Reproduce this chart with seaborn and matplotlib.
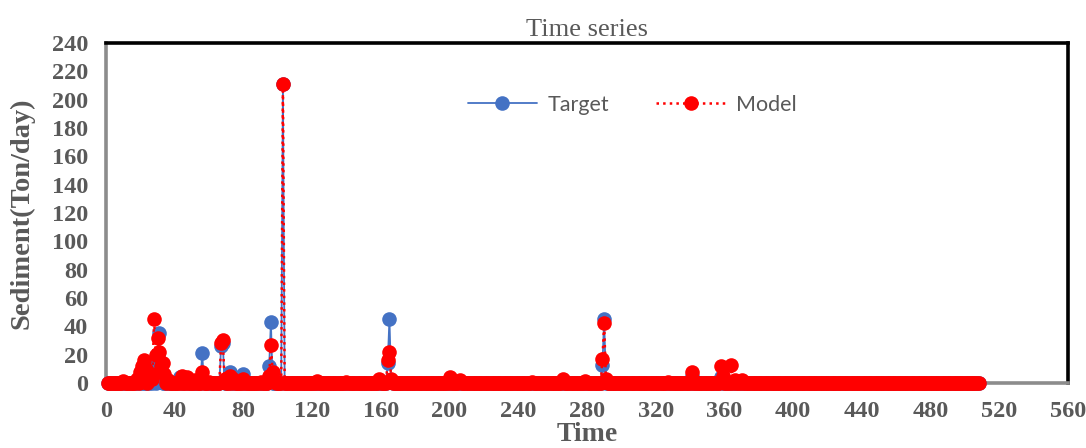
import matplotlib.pyplot as plt
import numpy as np
import pandas as pd
import seaborn as sns

# Number of daily records (time index 1..508)
n_days = 508

target_times = [20, 26, 28, 30, 31, 32, 43, 47, 56, 67, 68, 72, 80, 95, 96,
                103, 164, 165, 166, 289, 290, 341, 358]
target_values = [4, 10, 12, 20, 35, 8, 4, 3, 21, 26, 28, 8, 6, 12, 43,
                 211, 14, 45, 2, 13, 45, 5, 4]

model_times = [10, 18, 20, 21, 22, 23, 25, 26, 27, 28, 29, 30, 31, 32, 33, 34, 36,
               44, 47, 52, 56, 60, 67, 68, 69, 72, 74, 80, 90, 95, 96, 97, 98,
               103, 123, 140, 159, 164, 165, 166, 200, 206, 248, 266, 279,
               289, 290, 291, 327, 341, 358, 359, 364, 366, 370]
model_values = [1.5, 3, 8, 12, 16, 10, 4, 6, 3, 45, 20, 32, 22, 12, 14, 6, 2,
                5, 4, 2, 8, 1, 28, 30, 3, 5, 3, 3, 1, 5, 27, 8, 2,
                211, 1.5, 1, 2.5, 16, 22, 3, 4.5, 2, 1, 3, 1.5,
                17, 42, 3, 1, 7.5, 12, 5, 12.5, 2, 2]

x_ticks = list(range(0, 561, 40))
y_ticks = list(range(0, 241, 20))


def build_series(times, values):
    s = pd.Series(0.0, index=np.arange(1, n_days + 1))
    s.loc[times] = values
    return s


if __name__ == "__main__":
    sns.set_style("white")
    plt.rcParams["font.family"] = ["Liberation Serif", "DejaVu Serif"]

    df = pd.DataFrame({
        "Time": np.arange(1, n_days + 1),
        "Target": build_series(target_times, target_values).values,
        "Model": build_series(model_times, model_values).values,
    })

    fig, ax = plt.subplots(figsize=(10.86, 4.48), dpi=100)
    fig.subplots_adjust(left=0.0976, right=0.9834, top=0.904, bottom=0.1451)

    sns.lineplot(data=df, x="Time", y="Target", ax=ax, color="#4472C4",
                 linewidth=1.3, marker="o", markersize=10.5, markeredgewidth=0,
                 label="Target", clip_on=False, zorder=3)
    sns.lineplot(data=df, x="Time", y="Model", ax=ax, color="#FF0000",
                 linewidth=1.8, linestyle=":", marker="o", markersize=10.5,
                 markeredgewidth=0, label="Model", clip_on=False, zorder=4)

    ax.set_xlim(0, 560)
    ax.set_ylim(0, 240)
    ax.set_xticks(x_ticks)
    ax.set_yticks(y_ticks)
    grey = "#595959"
    ax.tick_params(length=0, labelcolor=grey, labelsize=17.5)
    ax.tick_params(axis="x", pad=13)
    ax.tick_params(axis="y", pad=13)
    for lab in ax.get_xticklabels() + ax.get_yticklabels():
        lab.set_fontweight("bold")

    ax.set_xlabel("Time", fontsize=20, fontweight="bold", color=grey, labelpad=0)
    ax.set_ylabel("Sediment(Ton/day)", fontsize=20.5, fontweight="bold",
                  color=grey, labelpad=12)
    ax.set_title("Time series", fontsize=19, color=grey, pad=5)

    for side in ["top", "right"]:
        ax.spines[side].set_color("black")
        ax.spines[side].set_linewidth(2.6)
    for side in ["left", "bottom"]:
        ax.spines[side].set_color("#8c8c8c")
        ax.spines[side].set_linewidth(2.6)

    ax.legend(loc="center", bbox_to_anchor=(0.547, 0.818), ncol=2, frameon=False,
              prop={"family": "Lato", "size": 15.5}, labelcolor=grey,
              handlelength=3.2, columnspacing=2.2, handletextpad=0.5)

    fig.savefig("out.png", dpi=100)
